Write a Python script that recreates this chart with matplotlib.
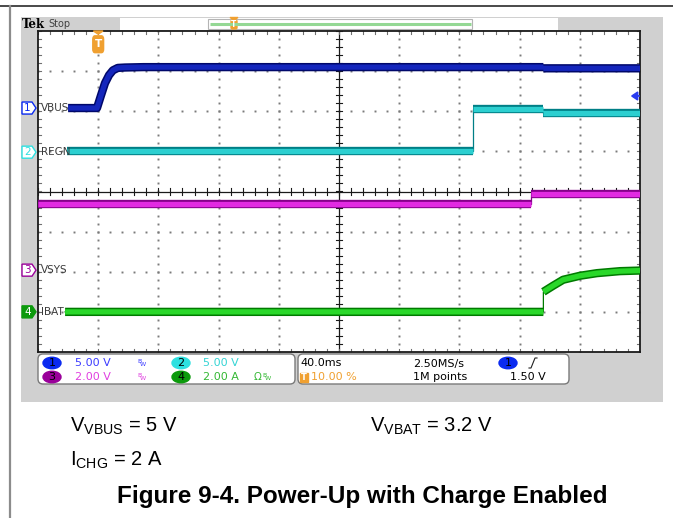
import numpy as np
import matplotlib.pyplot as plt
import matplotlib.patheffects as pe
from matplotlib.patches import Rectangle, FancyBboxPatch, Ellipse, Polygon
from matplotlib.transforms import blended_transform_factory

plt.rcParams['mathtext.fontset'] = 'custom'
plt.rcParams['mathtext.rm'] = 'Liberation Sans'
plt.rcParams['mathtext.it'] = 'Liberation Sans'

W, H = 673, 518

# acquisition settings
time_per_div = 40.0      # ms/div
trigger_pct = 10.0       # trigger position, % of record
n_xdiv, n_ydiv = 10, 8
t_left = -trigger_pct / 100 * n_xdiv * time_per_div
t_right = t_left + n_xdiv * time_per_div
trig_level = 1.50        # V on ch1

# channels
ch_names = ['VBUS', 'REGN', 'VSYS', 'IBAT']
ch_scale = [5.0, 5.0, 2.0, 2.0]          # per div
ch_units = ['V', 'V', 'V', 'A']
ch_pos = [2.08, 0.98, -1.96, -3.0]       # ground marker, div

# captured waveforms (ms, V / A)
vbus_t = [-20.0, -0.8, 1.9, 4.5, 7.2, 9.8, 13.0, 17.8, 30.0, 295.8, 295.8, 360.0]
vbus_v = [0.0, 0.0, 1.6, 3.1, 4.1, 4.7, 5.0, 5.05, 5.1, 5.1, 4.95, 4.95]
regn_t = [-20.7, 249.0, 249.0, 295.8, 295.8, 360.0]
regn_v = [0.1, 0.1, 5.35, 5.35, 4.85, 4.85]
vsys_t = [-40.0, 287.5, 287.5, 360.0]
vsys_v = [3.3, 3.3, 3.8, 3.8]
ibat_t = [-22.0, 295.8, 295.8, 302.2, 308.9, 320.1, 331.4, 346.7, 360.0]
ibat_a = [0.0, 0.0, 1.0, 1.3, 1.6, 1.8, 1.93, 2.03, 2.06]

traces = [(vbus_t, vbus_v), (regn_t, regn_v), (vsys_t, vsys_v), (ibat_t, ibat_a)]
face_cols = ['#1426bc', '#2ccfd0', '#e22ae2', '#2ad82a']
edge_cols = ['#00086a', '#007f86', '#86008a', '#007a00']
pill_cols = ['#0a2af0', '#2ee0e0', '#9a009a', '#0c9a0c']
text_cols = ['#3c3cff', '#34d4d4', '#e040e0', '#34b834']

fig = plt.figure(figsize=(W / 100, H / 100), dpi=100)
fig.patch.set_facecolor('white')

# pixel canvas for the screen furniture
cv = fig.add_axes([0, 0, 1, 1], zorder=0)
cv.set_xlim(0, W)
cv.set_ylim(H, 0)
cv.axis('off')

cv.plot([0, W], [5.5, 5.5], color='#3a3a3a', lw=1.3)
cv.plot([9.5, 9.5], [5.5, H], color='#8c8c8c', lw=1.6)
cv.add_patch(Rectangle((21, 17), 642, 385, facecolor='#d0d0d0', edgecolor='none'))

# status bar
cv.text(22, 24, 'Tek', fontsize=8.5, fontweight='bold', family='DejaVu Serif',
        va='center', ha='left', color='black')
cv.text(48, 24, 'Stop', fontsize=7, va='center', ha='left', color='#404040')
cv.add_patch(Rectangle((120, 18), 438, 11.5, facecolor='white', edgecolor='none'))
cv.add_patch(Rectangle((208, 18.5), 264, 10.5, facecolor='white', edgecolor='#b4b4b4', lw=0.8))
cv.plot([210, 471], [24, 24], color='#94d894', lw=2.2, solid_capstyle='butt')
cv.add_patch(Polygon([[230, 17.5], [238, 17.5], [234, 20]], color='#f0a030'))
cv.add_patch(FancyBboxPatch((231, 20), 6, 9, boxstyle='round,pad=0,rounding_size=1.5',
                            color='#f0a030'))
cv.text(234, 24.8, 'T', fontsize=5.5, color='white', ha='center', va='center', fontweight='bold')

# readout boxes
cv.add_patch(FancyBboxPatch((38, 354), 257, 30, boxstyle='round,pad=0,rounding_size=5',
                            facecolor='white', edgecolor='#7a7a7a', lw=1))
cv.add_patch(FancyBboxPatch((298, 354), 271, 30, boxstyle='round,pad=0,rounding_size=5',
                            facecolor='white', edgecolor='#7a7a7a', lw=1))
rows = [363, 377]
slots = [(52, 75, 137), (181, 203, 262), (52, 75, 137), (181, 203, 262)]
for i in range(4):
    px, tx, bx = slots[i]
    y = rows[0] if i in (0, 1) else rows[1]
    cv.add_patch(Ellipse((px, y), 18, 11.5, color=pill_cols[i]))
    cv.text(px, y + 0.5, str(i + 1), fontsize=8, ha='center', va='center', color='black')
    cv.text(tx, y + 0.5, f'{ch_scale[i]:.2f} {ch_units[i]}', fontsize=8, ha='left',
            va='center', color=text_cols[i])
    if i != 1:
        if i == 3:
            cv.text(bx - 1, y + 0.5, '\u03a9', fontsize=7.5, ha='right', va='center',
                    color=text_cols[i])
        cv.text(bx, y - 1.5, 'B', fontsize=4.5, ha='left', va='center', color=text_cols[i])
        cv.text(bx + 2.5, y + 2, 'W', fontsize=4.5, ha='left', va='center', color=text_cols[i])

cv.text(300, rows[0] + 0.5, f'{time_per_div:.1f}ms', fontsize=8, ha='left', va='center')
cv.add_patch(Rectangle((300, rows[1] - 4.5), 8, 9, color='#f0a030'))
cv.text(304, rows[1] + 0.5, 'T', fontsize=6, ha='center', va='center', color='white',
        fontweight='bold')
cv.text(311, rows[1] + 0.5, f'{trigger_pct:.2f} %', fontsize=8, ha='left', va='center',
        color='#f0a030')
cv.text(413, rows[0] + 0.5, '2.50MS/s', fontsize=8, ha='left', va='center')
cv.text(413, rows[1] + 0.5, '1M points', fontsize=8, ha='left', va='center')
cv.add_patch(Ellipse((508, rows[0]), 18, 11.5, color=pill_cols[0]))
cv.text(508, rows[0] + 0.5, '1', fontsize=8, ha='center', va='center', color='black')
cv.plot([529, 531, 535, 537], [368, 368, 358, 358], color='#202020', lw=0.8)
cv.text(510, rows[1] + 0.5, f'{trig_level:.2f} V', fontsize=8, ha='left', va='center')

# test conditions and caption
cv.text(70, 426, r'V$_{\mathrm{VBUS}}$ = 5 V', fontsize=14.5, family='Liberation Sans',
        ha='left', va='center')
cv.text(370, 426, r'V$_{\mathrm{VBAT}}$ = 3.2 V', fontsize=14.5, family='Liberation Sans',
        ha='left', va='center')
cv.text(70, 460, r'I$_{\mathrm{CHG}}$ = 2 A', fontsize=14.5, family='Liberation Sans',
        ha='left', va='center')
cv.text(362, 497, 'Figure 9-4. Power-Up with Charge Enabled', fontsize=17.5,
        family='Liberation Sans', fontweight='bold', ha='center', va='center')

# graticule
ax = fig.add_axes([38 / W, (H - 352) / H, 602 / W, 321 / H], zorder=2)
ax.set_facecolor('white')
ax.set_xlim(t_left, t_right)
ax.set_ylim(-n_ydiv / 2, n_ydiv / 2)
ax.set_xticks([])
ax.set_yticks([])
for s in ax.spines.values():
    s.set_color('#1a1a1a')
    s.set_linewidth(1.3)

t_mid = (t_left + t_right) / 2
minor_t = np.arange(t_left, t_right + 1e-6, time_per_div / 5)
minor_y = np.arange(-n_ydiv / 2, n_ydiv / 2 + 1e-6, 0.2)
dot = dict(ls='none', marker='s', ms=1.4, mew=0, color='#7a7a7a', zorder=1)
for k in range(1, n_xdiv):
    tk = t_left + k * time_per_div
    if abs(tk - t_mid) > 1e-6:
        ax.plot(np.full_like(minor_y, tk), minor_y, **dot)
for k in range(-n_ydiv // 2 + 1, n_ydiv // 2):
    if k != 0:
        ax.plot(minor_t, np.full_like(minor_t, k), **dot)

ax.axhline(0, color='#1a1a1a', lw=0.9, zorder=1)
ax.axvline(t_mid, color='#1a1a1a', lw=0.9, zorder=1)
hx = 0.075                      # half tick, div
ht = hx * 40.1 / 60.2 * time_per_div
for tk in minor_t:
    ax.plot([tk, tk], [-hx, hx], color='#1a1a1a', lw=0.8, zorder=1)
    ax.plot([tk, tk], [n_ydiv / 2, n_ydiv / 2 - hx], color='#707070', lw=0.8, zorder=1)
    ax.plot([tk, tk], [-n_ydiv / 2, -n_ydiv / 2 + hx], color='#707070', lw=0.8, zorder=1)
for yk in minor_y:
    ax.plot([t_mid - ht, t_mid + ht], [yk, yk], color='#1a1a1a', lw=0.8, zorder=1)
    ax.plot([t_left, t_left + ht], [yk, yk], color='#707070', lw=0.8, zorder=1)
    ax.plot([t_right, t_right - ht], [yk, yk], color='#707070', lw=0.8, zorder=1)

# waveforms
for i, (t, v) in enumerate(traces):
    t = np.asarray(t, float)
    y = ch_pos[i] + np.asarray(v, float) / ch_scale[i]
    tb, yb = [t[0]], [y[0]]
    for j in range(1, len(t)):
        if t[j] == t[j - 1]:
            tb.append(np.nan)
            yb.append(np.nan)
        tb.append(t[j])
        yb.append(y[j])
    ax.plot(t, y, color=edge_cols[i], lw=0.9, zorder=4)
    ax.plot(tb, yb, color=face_cols[i], lw=3.8, solid_capstyle='butt', zorder=5,
            path_effects=[pe.Stroke(linewidth=6.0, foreground=edge_cols[i]), pe.Normal()])

# channel ground markers and labels
tr = blended_transform_factory(ax.transAxes, ax.transData)
x0, x1, x2 = -16 / 602, -6 / 602, -2 / 602
for i in range(4):
    yc = ch_pos[i]
    hh = 0.15
    fill = pill_cols[i] if i == 3 else 'white'
    ax.add_patch(Polygon([[x0, yc - hh], [x1, yc - hh], [x2, yc], [x1, yc + hh], [x0, yc + hh]],
                         closed=True, transform=tr, facecolor=fill, edgecolor=pill_cols[i],
                         lw=1, clip_on=False, zorder=6))
    ax.text((x0 + x1) / 2 + 0.001, yc, str(i + 1), transform=tr, fontsize=7.5,
            ha='center', va='center', color='white' if i == 3 else pill_cols[i],
            clip_on=False, zorder=7)
    ax.text(3 / 602, yc, ch_names[i], transform=tr, fontsize=7.5, ha='left',
            va='center', color='#3a3a3a', zorder=7)

# trigger position and level
ax.add_patch(Polygon([[-3.2, 4.0], [3.2, 4.0], [0, 3.92]], closed=True, color='#f0a030',
                     clip_on=False, zorder=6))
ax.add_patch(FancyBboxPatch((-3.6, 3.46), 7.2, 0.42, boxstyle='round,pad=0,rounding_size=1.5',
                            color='#f0a030', zorder=6, mutation_aspect=0.06))
ax.text(0, 3.67, 'T', fontsize=7.5, color='white', fontweight='bold', ha='center',
        va='center', zorder=7)
yl = ch_pos[0] + trig_level / ch_scale[0]
ax.add_patch(Polygon([[t_right - 5.5, yl], [t_right - 1.5, yl + 0.1],
                      [t_right - 1.5, yl - 0.1]], closed=True, color='#2a3cf0', zorder=6))
ax.plot([t_right - 3, t_right], [yl, yl], color='#2a3cf0', lw=1.2, zorder=6)

fig.savefig('out.png', dpi=100)
